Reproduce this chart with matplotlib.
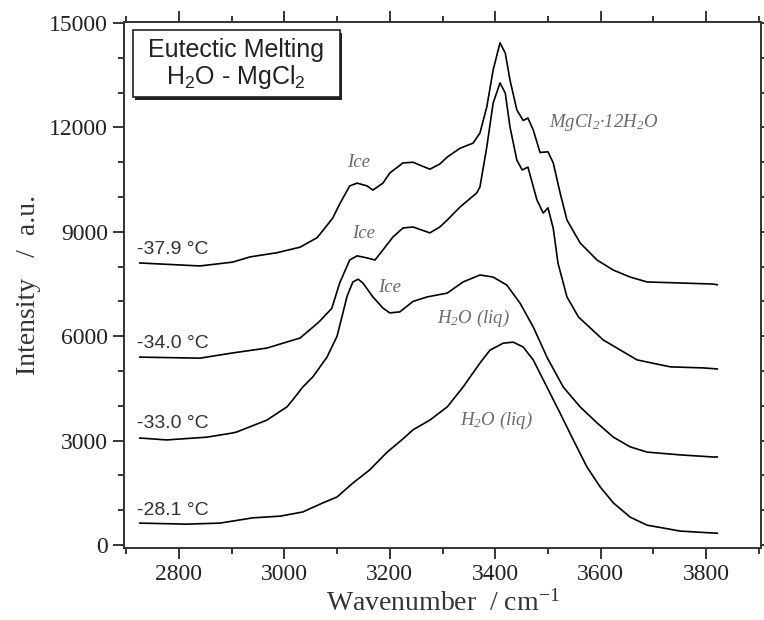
import matplotlib
matplotlib.use('Agg')
import matplotlib.pyplot as plt
from matplotlib.patches import Rectangle
from matplotlib.ticker import MultipleLocator

# Raman spectra of the H2O - MgCl2 system at four temperatures
wn_379 = [2726, 2840, 2902, 2935, 2986, 3030, 3062, 3077, 3092, 3105, 3124, 3138,
          3157, 3168, 3187, 3200, 3225, 3244, 3276, 3295, 3309, 3333, 3358, 3371,
          3384, 3396, 3409, 3419, 3428, 3441, 3453, 3462, 3472, 3485, 3500, 3510,
          3523, 3536, 3561, 3593, 3624, 3656, 3688, 3751, 3813, 3821]
int_379 = [8105, 8020, 8130, 8280, 8400, 8560, 8830, 9110, 9400, 9800, 10320, 10400,
           10320, 10200, 10400, 10690, 10980, 11000, 10800, 10950, 11150, 11400, 11550, 11840,
           12590, 13650, 14430, 14140, 13360, 12500, 12200, 12270, 11930, 11280, 11300, 10980,
           10120, 9340, 8680, 8190, 7900, 7700, 7560, 7530, 7500, 7480]

wn_340 = [2726, 2840, 2902, 2967, 3030, 3065, 3090, 3105, 3124, 3138, 3157, 3172,
          3187, 3206, 3225, 3244, 3276, 3295, 3309, 3333, 3365, 3371, 3384, 3396,
          3409, 3419, 3428, 3441, 3451, 3462, 3479, 3491, 3500, 3510, 3519, 3536,
          3558, 3605, 3669, 3732, 3794, 3821]
int_340 = [5400, 5370, 5520, 5660, 5950, 6400, 6800, 7530, 8190, 8310, 8250, 8190,
           8480, 8850, 9110, 9140, 8970, 9140, 9340, 9710, 10120, 10290, 11440, 12700,
           13280, 12990, 12010, 11060, 10780, 10860, 9920, 9540, 9690, 9100, 8100, 7130,
           6550, 5890, 5320, 5120, 5090, 5060]

wn_330 = [2726, 2777, 2853, 2902, 2910, 2967, 3005, 3016, 3035, 3054, 3081, 3100,
          3110, 3119, 3130, 3140, 3149, 3168, 3187, 3200, 3219, 3244, 3271, 3309,
          3339, 3371, 3396, 3422, 3447, 3472, 3498, 3529, 3561, 3593, 3624, 3656,
          3688, 3751, 3813, 3821]
int_330 = [3075, 3020, 3100, 3220, 3250, 3590, 3970, 4170, 4540, 4830, 5400, 6000,
           6600, 7150, 7560, 7640, 7530, 7130, 6810, 6670, 6700, 7000, 7130, 7240,
           7560, 7760, 7700, 7470, 6950, 6270, 5400, 4540, 3970, 3510, 3100, 2820,
           2670, 2590, 2530, 2530]

wn_281 = [2726, 2815, 2878, 2940, 2992, 3035, 3073, 3100, 3130, 3162, 3195, 3225,
          3244, 3276, 3309, 3339, 3371, 3390, 3415, 3434, 3453, 3472, 3498, 3523,
          3548, 3574, 3599, 3624, 3656, 3688, 3718, 3751, 3813, 3821]
int_281 = [630, 600, 630, 780, 830, 950, 1210, 1380, 1780, 2160, 2670, 3050,
           3310, 3590, 3970, 4540, 5230, 5600, 5800, 5830, 5690, 5320, 4540, 3790,
           3020, 2240, 1670, 1210, 800, 570, 490, 400, 345, 340]

temps = ['-37.9 °C', '-34.0 °C', '-33.0 °C', '-28.1 °C']
temp_y = [8480, 5780, 3500, 1000]

fig = plt.figure(figsize=(7.64, 6.2), dpi=100)
ax = fig.add_axes([0.1623, 0.1161, 0.8338, 0.8484])

for wn, inten in [(wn_379, int_379), (wn_340, int_340), (wn_330, int_330), (wn_281, int_281)]:
    ax.plot(wn, inten, color='black', lw=1.2)

ax.set_xlim(2696, 3904)
ax.set_ylim(-86, 15030)
ax.xaxis.set_major_locator(MultipleLocator(200))
ax.xaxis.set_minor_locator(MultipleLocator(100))
ax.yaxis.set_major_locator(MultipleLocator(3000))
ax.yaxis.set_minor_locator(MultipleLocator(1000))
ax.tick_params(which='both', direction='out', top=True, right=True, width=1.1,
               labelsize=17, labelcolor='#222222')
ax.tick_params(which='major', length=8)
ax.tick_params(which='minor', length=4.5)
for lab in ax.get_xticklabels() + ax.get_yticklabels():
    lab.set_family('Liberation Serif')
for sp in ax.spines.values():
    sp.set_linewidth(1.4)
    sp.set_color('#333333')

ax.set_xlabel(r'Wavenumber  / cm$\mathregular{^{-1}}$', family='Liberation Serif',
              fontsize=20, color='#333333', labelpad=4)
ax.set_ylabel('Intensity   /  a.u.', family='Liberation Serif', fontsize=20,
              color='#333333', labelpad=6)

# temperature labels
for t, y in zip(temps, temp_y):
    ax.text(2720, y, t, family='Liberation Sans', fontsize=14, color='#333333',
            va='center', ha='left')

# band assignments
gray = '#6a6a6a'
serif_it = dict(family='Liberation Serif', style='italic', fontsize=13.5, color=gray,
                ha='center', va='center')
ax.text(3140, 11000, 'Ice', **serif_it)
ax.text(3151, 8940, 'Ice', **serif_it)
ax.text(3200, 7410, 'Ice', **serif_it)
ax.text(3358, 6520, r'H$\mathregular{_2}$O (liq)', **serif_it)
ax.text(3403, 3590, r'H$\mathregular{_2}$O (liq)', **serif_it)
ax.text(3605, 12130, r'MgCl$\mathregular{_2}$·12H$\mathregular{_2}$O', **serif_it)

# title box with drop shadow
ax.add_patch(Rectangle((0.018, 0.852), 0.325, 0.128, transform=ax.transAxes,
                       facecolor='#222222', edgecolor='none', zorder=4))
ax.add_patch(Rectangle((0.014, 0.857), 0.325, 0.128, transform=ax.transAxes,
                       facecolor='white', edgecolor='#222222', lw=1.2, zorder=5))
ax.text(0.176, 0.947, 'Eutectic Melting', transform=ax.transAxes, ha='center',
        va='center', family='Liberation Sans', fontsize=18, color='#222222', zorder=6)
ax.text(0.176, 0.895, r'H$\mathregular{_2}$O - MgCl$\mathregular{_2}$', transform=ax.transAxes,
        ha='center', va='center', family='Liberation Sans', fontsize=18,
        color='#222222', zorder=6)

fig.savefig('out.png', dpi=100)
